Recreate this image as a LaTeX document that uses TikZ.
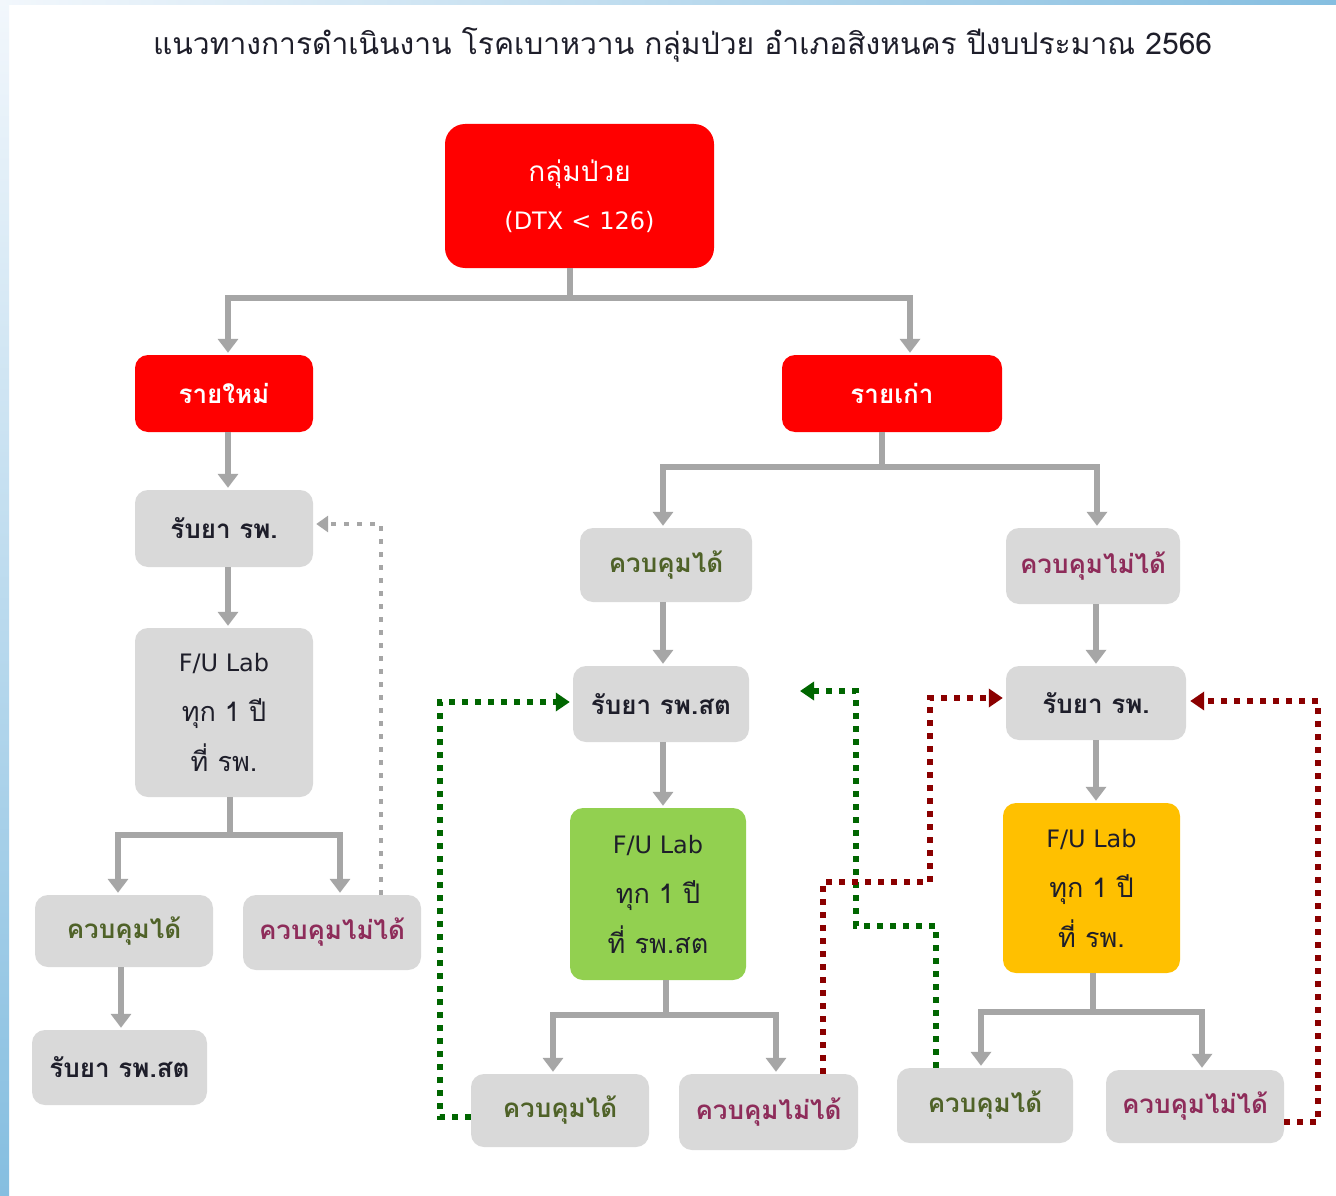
\documentclass[tikz,border=0pt]{standalone}
\usepackage{fontspec}
\usetikzlibrary{arrows.meta}
\newfontfamily\thaifont[Script=Thai]{Loma}
\newfontfamily\latfont{DejaVu Sans}
\definecolor{boxgray}{HTML}{D9D9D9}
\definecolor{conngray}{HTML}{A6A6A6}
\definecolor{okcol}{HTML}{4F6228}
\definecolor{ngcol}{HTML}{8E2C5A}
\definecolor{txtdark}{HTML}{1E1E2A}
\definecolor{dgreen}{HTML}{006600}
\definecolor{dred}{HTML}{8B0000}
\definecolor{fugreen}{HTML}{92D050}
\definecolor{fuorange}{HTML}{FFC000}
\definecolor{stripA}{HTML}{F2F7FC}
\definecolor{stripB}{HTML}{85BEE0}
\begin{document}
\begin{tikzpicture}[x=1pt,y=-1pt,
  box/.style={rectangle, rounded corners=13pt, inner sep=0pt, align=center},
  gbox/.style={box, fill=boxgray},
  rbox/.style={box, fill=red, text=white, font=\thaifont\bfseries\fontsize{26}{30}\selectfont},
  oktext/.style={text=okcol, font=\thaifont\bfseries\fontsize{26}{30}\selectfont},
  ngtext/.style={text=ngcol, font=\thaifont\bfseries\fontsize{26}{30}\selectfont},
  drugtext/.style={text=txtdark, font=\thaifont\bfseries\fontsize{26}{30}\selectfont},
  futext/.style={text=txtdark, font=\thaifont\fontsize{27}{50}\selectfont},
  conn/.style={draw=conngray, line width=6pt, -{Triangle[width=20pt,length=14pt]}, shorten >=2pt},
  dotg/.style={draw=conngray, line width=4.5pt, dash pattern=on 5pt off 8pt, -{Triangle[width=16pt,length=12pt]}},
  dotgreen/.style={draw=dgreen, line width=5.5pt, dash pattern=on 6pt off 7pt, -{Triangle[width=18pt,length=14pt]}},
  dotred/.style={draw=dred, line width=5.5pt, dash pattern=on 6pt off 7pt, -{Triangle[width=18pt,length=14pt]}}
]
\useasboundingbox (0,0) rectangle (1336,1196);
\fill[white] (0,0) rectangle (1336,1196);
\shade[top color=stripA, bottom color=stripB] (0,0) rectangle (9,1196);
\shade[left color=stripA, right color=stripB] (0,0) rectangle (1336,5);

% title
\node[text=txtdark, font=\thaifont\fontsize{30}{34}\selectfont] (title) at (682.5,45)
  {แนวทางการดำเนินงาน โรคเบาหวาน กลุ่มป่วย อำเภอสิงหนคร ปีงบประมาณ 2566};

% top
\node[box, fill=red, text=white, minimum width=269pt, minimum height=144pt,
  rounded corners=20pt, font=\thaifont\fontsize{28}{48}\selectfont] (top) at (579.5,196)
  {กลุ่มป่วย\\{\latfont\fontsize{24}{48}\selectfont (DTX\,\,<\,\,126)}};

\node[rbox, minimum width=178pt, minimum height=77pt] (new) at (224,393.5) {รายใหม่};
\node[rbox, minimum width=220pt, minimum height=77pt] (old) at (892,393.5) {รายเก่า};

% left column
\node[gbox, drugtext, minimum width=178pt, minimum height=77pt] (L1) at (224,528.5) {รับยา รพ.};
\node[gbox, futext, minimum width=178pt, minimum height=169pt] (L2) at (224,712.5)
  {{\latfont\fontsize{24}{50}\selectfont F/U Lab}\\ทุก 1 ปี\\ที่ รพ.};
\node[gbox, oktext, minimum width=178pt, minimum height=72pt] (L3a) at (124,931) {ควบคุมได้};
\node[gbox, ngtext, minimum width=178pt, minimum height=75pt] (L3b) at (332,932.5) {ควบคุมไม่ได้};
\node[gbox, drugtext, minimum width=175pt, minimum height=75pt] (L4) at (119.5,1067.5) {รับยา รพ.สต};

% middle column
\node[gbox, oktext, minimum width=172pt, minimum height=74pt] (M1) at (666,565) {ควบคุมได้};
\node[gbox, drugtext, minimum width=176pt, minimum height=76pt] (M2) at (661,704) {รับยา รพ.สต};
\node[box, fill=fugreen, futext, minimum width=176pt, minimum height=172pt] (M3) at (658,894)
  {{\latfont\fontsize{24}{50}\selectfont F/U Lab}\\ทุก 1 ปี\\ที่ รพ.สต};
\node[gbox, oktext, minimum width=178pt, minimum height=73pt] (M4a) at (560,1110.5) {ควบคุมได้};
\node[gbox, ngtext, minimum width=179pt, minimum height=76pt] (M4b) at (768.5,1112) {ควบคุมไม่ได้};

% right column
\node[gbox, ngtext, minimum width=174pt, minimum height=76pt] (R1) at (1093,566) {ควบคุมไม่ได้};
\node[gbox, drugtext, minimum width=180pt, minimum height=74pt] (R2) at (1096,703) {รับยา รพ.};
\node[box, fill=fuorange, futext, minimum width=177pt, minimum height=170pt] (R3) at (1091.5,888)
  {{\latfont\fontsize{24}{50}\selectfont F/U Lab}\\ทุก 1 ปี\\ที่ รพ.};
\node[gbox, oktext, minimum width=176pt, minimum height=75pt] (R4a) at (985,1105.5) {ควบคุมได้};
\node[gbox, ngtext, minimum width=178pt, minimum height=73pt] (R4b) at (1195,1106.5) {ควบคุมไม่ได้};

% solid connectors
\draw[conn] ([xshift=-9.5pt]top.south) -- ++(0,30) -| ([xshift=4pt]new.north);
\draw[conn] ([xshift=-9.5pt]top.south) -- ++(0,30) -| ([xshift=18pt]old.north);
\draw[conn] ([xshift=4pt]new.south) -- ([xshift=4pt]L1.north);
\draw[conn] ([xshift=4pt]L1.south) -- ([xshift=4pt]L2.north);
\draw[conn] ([xshift=6pt]L2.south) -- ++(0,38) -| ([xshift=-6pt]L3a.north);
\draw[conn] ([xshift=6pt]L2.south) -- ++(0,38) -| ([xshift=8pt]L3b.north);
\draw[conn] ([xshift=-3pt]L3a.south) -- ([xshift=-3pt]L3a.south |- L4.north);

\draw[conn] ([xshift=-10pt]old.south) -- ++(0,35) -| ([xshift=-3pt]M1.north);
\draw[conn] ([xshift=-10pt]old.south) -- ++(0,35) -| ([xshift=4pt]R1.north);
\draw[conn] ([xshift=-3pt]M1.south) -- ([xshift=-3pt]M1.south |- M2.north);
\draw[conn] ([xshift=2pt]M2.south) -- ([xshift=2pt]M2.south |- M3.north);
\draw[conn] ([xshift=8pt]M3.south) -- ++(0,35) -| ([xshift=-7pt]M4a.north);
\draw[conn] ([xshift=8pt]M3.south) -- ++(0,35) -| ([xshift=7.5pt]M4b.north);

\draw[conn] ([xshift=3pt]R1.south) -- ([xshift=3pt]R1.south |- R2.north);
\draw[conn] (R2.south) -- (R2.south |- R3.north);
\draw[conn] ([xshift=1.5pt]R3.south) -- ++(0,39) -| ([xshift=-4pt]R4a.north);
\draw[conn] ([xshift=1.5pt]R3.south) -- ++(0,39) -| ([xshift=7pt]R4b.north);

% dotted feedback connectors
\coordinate (gA) at (856,926);
\coordinate (gEnd) at (800,691);
\coordinate (rA) at (930,882);
\draw[dotg] ([xshift=49pt]L3b.north) |- ([xshift=3pt,yshift=4.5pt]L1.east);
\draw[dotgreen] ([yshift=-6.5pt]M4a.west) -- ++(-31,0) |- ([xshift=-3pt,yshift=2pt]M2.west);
\draw[dotgreen] ([xshift=-49pt]R4a.north) |- (gA) |- (gEnd);
\draw[dotred] ([xshift=54.5pt]M4b.north) |- (rA) |- ([xshift=-3pt,yshift=5pt]R2.west);
\draw[dotred] ([yshift=-15.5pt]R4b.east) -- ++(34,0) |- ([xshift=4pt,yshift=2pt]R2.east);
\end{tikzpicture}
\end{document}
